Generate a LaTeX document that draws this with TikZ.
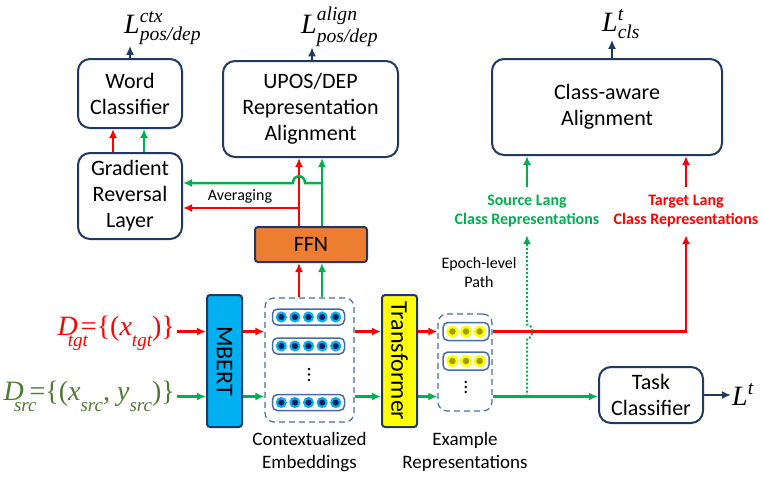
\documentclass[tikz,border=0pt]{standalone}
\usepackage{fontspec}
\usepackage{amsmath}
\setmainfont{Carlito}
\newfontfamily\tnr{Liberation Serif}
\usepackage{xcolor}
\usepackage{tikz}
\usetikzlibrary{shapes,arrows.meta,positioning,calc}
\definecolor{navy}{HTML}{1F3864}
\definecolor{tgtred}{HTML}{FF0000}
\definecolor{srcgreen}{HTML}{00B050}
\definecolor{dsrc}{HTML}{4F7A33}
\definecolor{mbertblue}{HTML}{00B0F0}
\definecolor{ffnorange}{HTML}{ED7D31}
\definecolor{trfyellow}{HTML}{FFFF00}
\definecolor{dashblue}{HTML}{4A6BAA}
\definecolor{dotblue}{HTML}{002060}
\definecolor{dotolive}{HTML}{9E9E00}
\tikzstyle{block} = [rectangle, draw=navy, line width=2pt, fill=white,
    align=center, rounded corners=12pt, inner sep=0pt,
    font=\fontsize{22}{26}\selectfont]
\tikzstyle{layer} = [rectangle, draw=navy, line width=2pt, rounded corners=3pt,
    inner sep=0pt, font=\fontsize{22}{26}\selectfont]
\tikzstyle{group} = [rectangle, draw=dashblue, line width=1.2pt, dashed,
    dash pattern=on 6pt off 4pt, rounded corners=9pt, inner sep=0pt]
\tikzstyle{vec} = [rectangle, draw=dashblue, line width=1.5pt,
    rounded corners=5pt, inner sep=0pt]
\tikzstyle{caption} = [align=center, inner sep=2pt,
    font=\fontsize{19}{22}\selectfont]
\tikzstyle{note} = [align=center, inner sep=2pt,
    font=\fontsize{16}{19}\selectfont]
\tikzstyle{loss} = [anchor=base west, inner sep=1pt,
    font=\fontsize{28}{28}\selectfont]
\tikzstyle{dataset} = [anchor=base east, inner sep=2pt,
    font=\fontsize{28}{28}\selectfont\tnr]
\tikzstyle{line} = [draw, line width=2.5pt, -{Latex[length=9pt,width=8pt]}]
\tikzstyle{redline} = [line, tgtred]
\tikzstyle{greenline} = [line, srcgreen]
\tikzstyle{navyline} = [line, navy]
\newcommand{\tit}[1]{\text{\tnr\itshape #1}}
\newcommand{\lsub}[1]{\raisebox{-0.4em}{\fontsize{19}{19}\selectfont\itshape #1}}

\begin{document}
\begin{tikzpicture}[x=1pt, y=-1pt]
        \useasboundingbox (0,0) rectangle (763,477);
        % Components
        \node [block, minimum width=104pt, minimum height=69pt] (wc) at (130,93.5) {Word\\Classifier};
        \node [block, minimum width=104pt, minimum height=86pt] (grl) at (130,196) {Gradient\\Reversal\\Layer};
        \node [block, minimum width=175pt, minimum height=96pt] (upos) at (310.5,109) {UPOS/DEP\\Representation\\Alignment};
        \node [block, minimum width=230pt, minimum height=96pt] (caa) at (607,107) {Class-aware\\Alignment};
        \node [layer, fill=ffnorange, minimum width=112pt, minimum height=35pt] (ffn) at (311,244.5) {FFN};
        \node [layer, fill=mbertblue, minimum width=35pt, minimum height=132pt, font=\fontsize{24}{26}\selectfont] (mbert) at (224.5,361) {\rotatebox{-90}{MBERT}};
        \node [layer, fill=trfyellow, minimum width=35pt, minimum height=132pt, font=\fontsize{24}{26}\selectfont] (trf) at (399.5,361) {\rotatebox{-90}{Transformer}};
        \node [block, minimum width=104pt, minimum height=56pt] (tc) at (651,395) {Task\\Classifier};

        % Embedding groups
        \node [group, minimum width=89pt, minimum height=124pt] (ce) at (309.5,360) {};
        \node [vec, minimum width=72pt, minimum height=16pt] (v1) at (308.5,317) {};
        \node [vec, minimum width=72pt, minimum height=16pt] (v2) at (308.5,346) {};
        \node [vec, minimum width=72pt, minimum height=16pt] (v3) at (308.5,402.5) {};
        \foreach \v in {v1,v2,v3}
            \foreach \i in {-2,...,2}
                \filldraw [fill=dotblue, draw=mbertblue, line width=2.2pt] ($(\v)+(\i*13.6,0)$) circle (4.4pt);
        \foreach \y in {369,374.5,380}
            \fill (309,\y) circle (1.4pt);
        \node [group, minimum width=54pt, minimum height=97pt] (er) at (465,362.5) {};
        \node [vec, minimum width=46pt, minimum height=18pt] (e1) at (466,331.5) {};
        \node [vec, minimum width=46pt, minimum height=18pt] (e2) at (466,361) {};
        \foreach \v in {e1,e2}
            \foreach \i in {-1,0,1}
                \filldraw [fill=dotolive, draw=trfyellow, line width=2.6pt] ($(\v)+(\i*13.6,0)$) circle (4.8pt);
        \foreach \y in {382,387,392}
            \fill (465.7,\y) circle (1.4pt);

        % Texts
        \node [dataset, text=tgtred] (dtgt) at (177,335)
            {\itshape D\kern-0.35em\lsub{tgt}\kern-0.25em\upshape=\{(\itshape x\lsub{tgt}\upshape)\}};
        \node [dataset, text=dsrc] (dsrc) at (177,400)
            {\itshape D\kern-0.35em\lsub{src}\kern-0.25em\upshape=\{(\itshape x\lsub{src}, y\lsub{src}\upshape)\}};
        \node [loss] (lctx) at (123,33) {$\tit{L}^{\tit{ctx}}_{\tit{pos/dep}}$};
        \node [loss] (lalign) at (300,33) {$\tit{L}^{\tit{align}}_{\tit{pos/dep}}$};
        \node [loss] (lcls) at (601,31) {$\tit{L}^{\tit{t}}_{\tit{cls}}$};
        \node [loss] (lt) at (731,405) {$\tit{L}^{\tit{t}}$};
        \node [note] (avg) at (240,196) {Averaging};
        \node [note] (epoch) at (479,272) {Epoch-level\\Path};
        \node [caption, below=8pt of ce] (celab) {Contextualized\\Embeddings};
        \node [caption, below=19pt of er] (erlab) {Example\\Representations};
        \node [note, text=srcgreen, font=\fontsize{16}{19}\selectfont\bfseries, inner ysep=8pt] (srclab) at (527,211) {Source Lang\\Class Representations};
        \node [note, text=tgtred, font=\fontsize{16}{19}\selectfont\bfseries, inner ysep=8pt] (tgtlab) at (686,211) {Target Lang\\Class Representations};

        % Connections
        \coordinate (tgtrow) at (0,331.5);
        \coordinate (srcrow) at (0,396.5);
        \coordinate (xr) at (299,0);
        \coordinate (xg) at (322,0);
        \coordinate (wr) at (113,0);
        \coordinate (wg) at (144,0);
        \path [redline] (dtgt.east |- tgtrow) -- (mbert.west |- tgtrow);
        \path [greenline] (dsrc.east |- srcrow) -- (mbert.west |- srcrow);
        \path [redline] (mbert.east |- tgtrow) -- (ce.west |- tgtrow);
        \path [greenline] (mbert.east |- srcrow) -- (ce.west |- srcrow);
        \path [redline] (ce.east |- tgtrow) -- (trf.west |- tgtrow);
        \path [greenline] (ce.east |- srcrow) -- (trf.west |- srcrow);
        \path [redline] (trf.east |- tgtrow) -- (er.west |- tgtrow);
        \path [greenline] (trf.east |- srcrow) -- (er.west |- srcrow);
        \path [redline] (ce.north -| xr) -- (ffn.south -| xr);
        \path [greenline] (ce.north -| xg) -- (ffn.south -| xg);
        \path [redline] (ffn.north -| xr) -- (upos.south -| xr);
        \path [greenline] (ffn.north -| xg) -- (upos.south -| xg);

        % Averaging into the reversal layer
        \coordinate (avgr) at (299,208);
        \coordinate (avgg) at (322,183);
        \coordinate (jump) at (xr |- avgg);
        \path [redline] (avgr) -- (grl.east |- avgr);
        \path [greenline] (avgg) -- ($(jump)+(6,0)$) .. controls ($(jump)+(6,-9)$) and ($(jump)+(-6,-9)$) .. ($(jump)+(-6,0)$) -- (grl.east |- avgg);
        \path [redline] (grl.north -| wr) -- (wc.south -| wr);
        \path [greenline] (grl.north -| wg) -- (wc.south -| wg);

        % Losses
        \path [navyline] (wc.north) -- (wc.north |- lctx.south);
        \path [navyline] (upos.north -| lalign.west) ++(12,0) coordinate (ua) (upos.north -| ua) -- (ua |- lalign.south);
        \path [navyline] (caa.north -| lcls.west) ++(11,0) coordinate (ca) (caa.north -| ca) -- (ca |- lcls.south);
        \path [navyline] (tc.east) -- (tc.east -| lt.west);

        % Class representations
        \coordinate (cross) at (srclab.south |- tgtrow);
        \path [redline] (er.east |- tgtrow) -| (tgtlab.south);
        \path [greenline] (er.east |- srcrow) -- (tc.west |- srcrow);
        \path [greenline, line width=2pt, dotted] (srclab.south |- srcrow) -- ($(cross)+(0,7)$) .. controls ($(cross)+(7,7)$) and ($(cross)+(7,-7)$) .. ($(cross)+(0,-7)$) -- (srclab.south);
        \path [greenline] (srclab.north) -- (caa.south -| srclab.north);
        \path [redline] (tgtlab.north) -- (caa.south -| tgtlab.north);
    \end{tikzpicture}
\end{document}
